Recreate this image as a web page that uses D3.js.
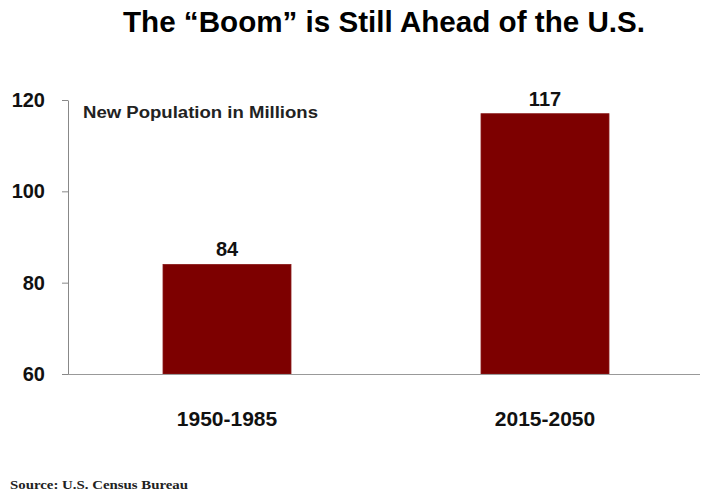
<!DOCTYPE html>
<html><head><meta charset="utf-8">
<script src="https://cdn.jsdelivr.net/npm/d3@7"></script>
<style>body{margin:0;background:#fff}svg{display:block}</style>
</head><body>
<svg id="chart" width="701" height="492"></svg>
<script>
const categories = ["1950-1985", "2015-2050"];
const values = [84, 117];
const yTicks = [60, 80, 100, 120];
const title = "The \u201CBoom\u201D is Still Ahead of the U.S.";
const unitLabel = "New Population in Millions";
const source = "Source: U.S. Census Bureau";

const svg = d3.select("#chart");
const mLeft = 68, mRight = 700, mTop = 100, mBottom = 374;
const x = d3.scaleBand().domain(categories).range([mLeft, 704]).paddingInner(0.5975).paddingOuter(0.29875);
const y = d3.scaleLinear().domain([60, 120]).range([mBottom, mTop]);
const font = "'Liberation Sans', Arial, sans-serif";

// title
svg.append("text").attr("x", 384).attr("y", 32).attr("text-anchor", "middle")
  .attr("font-family", font).attr("font-weight", "bold").attr("font-size", 29)
  .attr("fill", "#000").attr("textLength", 522).attr("lengthAdjust", "spacingAndGlyphs").text(title);

// bars
svg.selectAll("rect.bar").data(values).join("rect").attr("class", "bar")
  .attr("x", (d, i) => x(categories[i])).attr("width", x.bandwidth())
  .attr("y", d => y(d)).attr("height", d => y(60) - y(d))
  .attr("fill", "#7d0000").attr("stroke", "#8a1a1a").attr("stroke-width", 0.8);

// value labels
svg.selectAll("text.val").data(values).join("text").attr("class", "val")
  .attr("x", (d, i) => x(categories[i]) + x.bandwidth() / 2).attr("y", d => y(d) - 8)
  .attr("text-anchor", "middle").attr("font-family", font).attr("font-weight", "bold")
  .attr("font-size", 20).attr("fill", "#111").text(d => d);

// y axis
const yAxis = svg.append("g").attr("transform", `translate(${mLeft},0)`)
  .call(d3.axisLeft(y).tickValues(yTicks).tickSize(6).tickPadding(17).tickSizeOuter(0));
yAxis.select(".domain").attr("stroke", "#888");
yAxis.selectAll(".tick line").attr("stroke", "#888");
yAxis.selectAll(".tick text").attr("font-family", font).attr("font-weight", "bold")
  .attr("font-size", 20).attr("fill", "#111");

// x axis
const xAxis = svg.append("g").attr("transform", `translate(0,${mBottom})`)
  .call(d3.axisBottom(x).tickSize(0).tickPadding(37).tickSizeOuter(0));
xAxis.select(".domain").remove();
xAxis.append("line").attr("x1", mLeft).attr("x2", mRight).attr("y1", 0.5).attr("y2", 0.5)
  .attr("stroke", "#999");
xAxis.selectAll(".tick text").attr("font-family", font).attr("font-weight", "bold")
  .attr("font-size", 21).attr("fill", "#111");

// unit label
svg.append("text").attr("x", 83).attr("y", 118).attr("font-family", font)
  .attr("font-weight", "bold").attr("font-size", 16).attr("fill", "#222")
  .attr("textLength", 235).attr("lengthAdjust", "spacingAndGlyphs").text(unitLabel);

// source
svg.append("text").attr("x", 10).attr("y", 489).attr("font-family", "'Liberation Serif', 'Times New Roman', serif")
  .attr("font-weight", "bold").attr("font-size", 13).attr("fill", "#222")
  .attr("textLength", 178).attr("lengthAdjust", "spacingAndGlyphs").text(source);
</script>
</body></html>
